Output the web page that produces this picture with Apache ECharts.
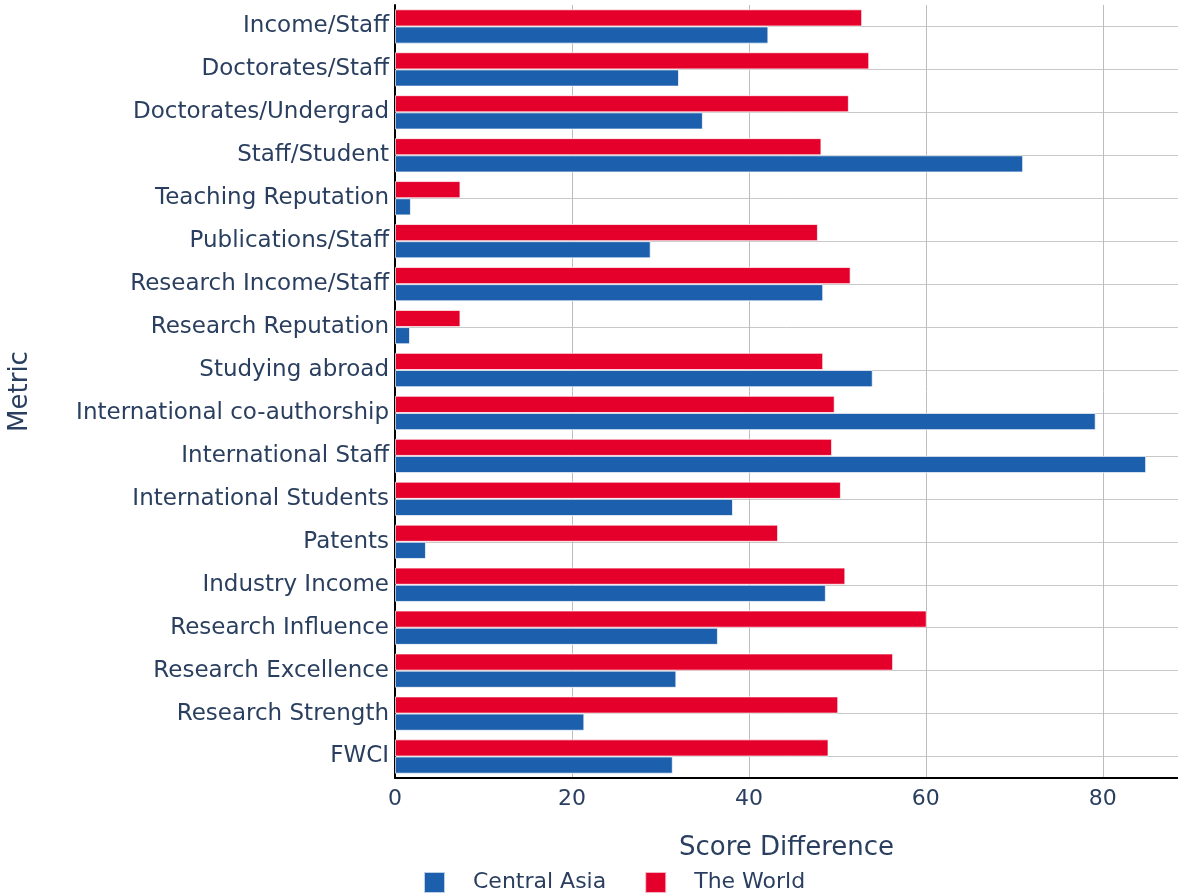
<!DOCTYPE html>
<html>
<head>
<meta charset="utf-8">
<script src="https://cdn.jsdelivr.net/npm/echarts@6/dist/echarts.min.js"></script>
<style>
html,body{margin:0;padding:0;background:#fff;}
#chart{width:1178px;height:896px;}
</style>
</head>
<body>
<div id="chart"></div>
<script>
const categories = [
  "Income/Staff", "Doctorates/Staff", "Doctorates/Undergrad", "Staff/Student",
  "Teaching Reputation", "Publications/Staff", "Research Income/Staff",
  "Research Reputation", "Studying abroad", "International co-authorship",
  "International Staff", "International Students", "Patents", "Industry Income",
  "Research Influence", "Research Excellence", "Research Strength", "FWCI"
];
const centralAsia = [42.2, 32.1, 34.8, 71.0, 1.8, 28.9, 48.4, 1.7, 54.0, 79.2, 84.9, 38.2, 3.5, 48.7, 36.5, 31.8, 21.4, 31.4];
const theWorld = [52.8, 53.6, 51.3, 48.2, 7.4, 47.8, 51.5, 7.4, 48.4, 49.7, 49.4, 50.4, 43.3, 50.9, 60.1, 56.3, 50.1, 49.0];
const xTicks = [0, 20, 40, 60, 80];

const FONT = "DejaVu Sans";
const TXT = "#2a3f5f";
const chart = echarts.init(document.getElementById('chart'));
chart.setOption({
  animation: false,
  textStyle: { fontFamily: FONT },
  grid: { left: 395, right: 0, top: 5, bottom: 118, containLabel: false, outerBoundsMode: 'none' },
  legend: {
    data: ["Central Asia", "The World"],
    left: 423, top: 871, padding: 0,
    itemWidth: 21, itemHeight: 21, itemGap: 38,
    icon: 'rect',
    textStyle: { fontFamily: FONT, fontSize: 22, color: TXT, padding: [0, 0, 0, 23] }
  },
  xAxis: {
    type: 'value', min: 0, max: 88.5, interval: 20,
    name: 'Score Difference', nameLocation: 'middle', nameGap: 57,
    nameTextStyle: { fontFamily: FONT, fontSize: 26, color: TXT },
    axisLine: { show: true, lineStyle: { color: '#000', width: 2 } },
    axisTick: { show: false },
    axisLabel: {
      fontFamily: FONT, fontSize: 22, color: TXT, margin: 10,
      formatter: v => (xTicks.indexOf(v) >= 0 ? String(v) : '')
    },
    splitLine: { show: true, lineStyle: { color: '#bdbdbd', width: 1 } }
  },
  yAxis: {
    type: 'category', data: categories, inverse: true,
    name: 'Metric', nameLocation: 'middle', nameGap: 362, nameRotate: 90,
    nameTextStyle: { fontFamily: FONT, fontSize: 26, color: TXT },
    axisLine: { show: true, lineStyle: { color: '#000', width: 2 } },
    axisTick: { show: false, alignWithLabel: true },
    axisLabel: { fontFamily: FONT, fontSize: 23, color: TXT, margin: 6 },
    splitLine: { show: true, alignWithLabel: true, lineStyle: { color: '#c8c8c8', width: 1 } }
  },
  series: [
    {
      name: 'The World', type: 'bar', data: theWorld,
      barCategoryGap: '20%', barGap: '0%',
      itemStyle: { color: '#e4002b', borderColor: 'rgba(255,255,255,0.7)', borderWidth: 1 }
    },
    {
      name: 'Central Asia', type: 'bar', data: centralAsia,
      barCategoryGap: '20%', barGap: '0%',
      itemStyle: { color: '#1c5fac', borderColor: 'rgba(255,255,255,0.7)', borderWidth: 1 }
    }
  ]
});
</script>
</body>
</html>
